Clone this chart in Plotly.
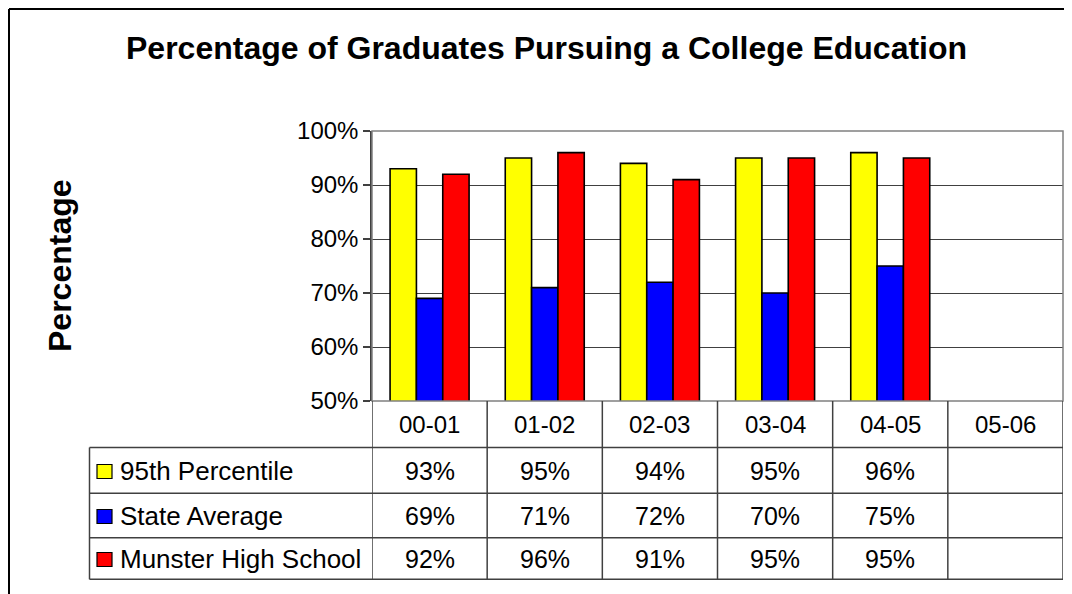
import plotly.graph_objects as go

# data
years = ["00-01", "01-02", "02-03", "03-04", "04-05", "05-06"]
series_names = ["95th Percentile", "State Average", "Munster High School"]
pct_95th = [93, 95, 94, 95, 96, None]
state_avg = [69, 71, 72, 70, 75, None]
munster = [92, 96, 91, 95, 95, None]
colors = ["#FFFF00", "#0000FF", "#FF0000"]

# page body has an 8px margin, so work in window coords and shift
OFF = 8
W, H = 1072 - OFF, 594 - OFF
PL, PR, PT, PB = 372, 1063, 131, 401   # plot area in window pixels
L, R, T, B = PL - OFF, W - (PR - OFF), PT - OFF, H - (PB - OFF)
pw, ph = PR - PL, PB - PT

def px(x):
    return (x - PL) / pw

def py(y):
    return (PB - y) / ph

FONT = "Liberation Sans, Arial, sans-serif"
LINE = "#404040"

fig = go.Figure()
all_series = [pct_95th, state_avg, munster]
for name, vals, c in zip(series_names, all_series, colors):
    fig.add_trace(go.Bar(
        x=years, y=[v / 100 if v is not None else None for v in vals],
        name=name, marker=dict(color=c, line=dict(color="black", width=1.6)),
    ))

shapes = []
annots = []

def txt(x, y, s, size=24, xref="paper", **kw):
    annots.append(dict(x=x, xref=xref, y=y, yref="paper", text=s, showarrow=False,
                       yanchor="middle", font=dict(size=size, color="black", family=FONT), **kw))

# outer frame (left and top edges only are visible)
shapes.append(dict(type="line", xref="paper", yref="paper",
                   x0=px(9), x1=px(9), y0=py(9), y1=py(600),
                   line=dict(color="black", width=2)))
shapes.append(dict(type="line", xref="paper", yref="paper",
                   x0=px(9), x1=px(1080), y0=py(9), y1=py(9),
                   line=dict(color="black", width=2)))
# plot area frame
shapes.append(dict(type="rect", xref="paper", yref="paper",
                   x0=0, x1=1, y0=0, y1=1,
                   line=dict(color="#808080", width=1.5)))

# data table grid
row_lines = [447.5, 493.3, 537.7, 579.3]
bottom = py(row_lines[-1])
for i in range(len(years) + 1):
    shapes.append(dict(type="line", xref="x", yref="paper",
                       x0=i - 0.5, x1=i - 0.5, y0=0, y1=bottom,
                       line=dict(color=LINE, width=1.5)))
for yl in row_lines:
    shapes.append(dict(type="line", xref="paper", yref="paper",
                       x0=px(89.5), x1=1, y0=py(yl), y1=py(yl),
                       line=dict(color=LINE, width=1.5)))
shapes.append(dict(type="line", xref="paper", yref="paper",
                   x0=px(89.5), x1=px(89.5), y0=py(row_lines[0]), y1=bottom,
                   line=dict(color=LINE, width=1.5)))

# header row
for yr in years:
    txt(yr, py(424), yr, xref="x", xanchor="center")

row_centers = [470.5, 515.5, 558.5]
for name, vals, c, yc in zip(series_names, all_series, colors, row_centers):
    shapes.append(dict(type="rect", xref="paper", yref="paper",
                       x0=px(97), x1=px(112), y0=py(yc - 6), y1=py(yc + 8),
                       fillcolor=c, line=dict(color="black", width=1.2)))
    txt(px(118), py(yc), name, size=26, xanchor="left")
    for yr, v in zip(years, vals):
        if v is None:
            continue
        txt(yr, py(yc), f"{v}%", size=25, xref="x", xanchor="center")

# titles
txt(px(546), py(48), "<b>Percentage of Graduates Pursuing a College Education</b>",
    size=32, xanchor="center")
txt(px(60), py(266), "<b>Percentage</b>", size=32, xanchor="center", textangle=-90)

fig.update_layout(
    width=W, height=H,
    margin=dict(l=L, r=R, t=T, b=B, pad=0),
    paper_bgcolor="white", plot_bgcolor="white",
    barmode="group", bargap=0.314, bargroupgap=0,
    showlegend=False,
    shapes=shapes, annotations=annots,
    font=dict(family=FONT, size=24, color="black"),
    xaxis=dict(type="category", range=[-0.5, 5.5], showticklabels=False, showgrid=False,
               zeroline=False, ticks="", showline=False),
    yaxis=dict(range=[0.5, 1.0], dtick=0.1, tickformat=".0%",
               showgrid=True, gridcolor="#404040", gridwidth=1,
               ticks="outside", ticklen=7, tickcolor=LINE, tickwidth=1.5,
               showline=True, linecolor=LINE, linewidth=1.5,
               zeroline=False, tickfont=dict(size=24, color="black", family=FONT)),
)

fig.write_html("out.html")
